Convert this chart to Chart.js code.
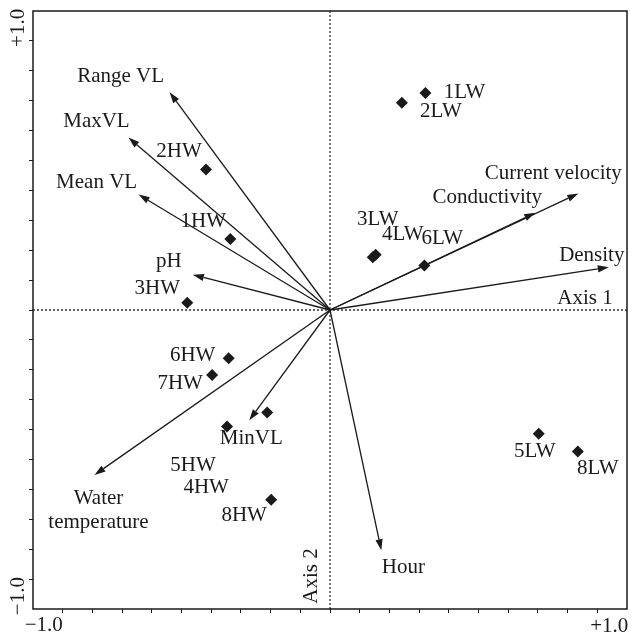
<!DOCTYPE html>
<html lang="en">
<head>
    <meta charset="utf-8">
    <script src="https://cdn.jsdelivr.net/npm/chart.js"></script>
    <style>
        html, body {
            margin: 0;
            padding: 0;
            background: #fff;
        }
        #chart {
            display: block;
        }
    </style>
</head>
<body>
    <canvas id="chart" width="633" height="633"></canvas>

    <script>
        // sites (diamonds)
        const siteNames = ['1LW', '2LW', '3LW', '4LW', '6LW', '5LW', '8LW',
                           '1HW', '2HW', '3HW', '4HW', '5HW', '6HW', '7HW', '8HW'];
        const siteX = [0.357, 0.269, 0.160, 0.171, 0.353, 0.781, 0.927,
                       -0.373, -0.464, -0.534, -0.235, -0.385, -0.379, -0.441, -0.220];
        const siteY = [0.806, 0.770, 0.196, 0.205, 0.165, -0.460, -0.526,
                       0.264, 0.522, 0.027, -0.381, -0.433, -0.179, -0.242, -0.705];

        // environmental variables (arrows from origin)
        const varNames = ['Range VL', 'MaxVL', 'Mean VL', 'pH', 'Water\ntemperature',
                          'MinVL', 'Hour', 'Current velocity', 'Conductivity', 'Density'];
        const varX = [-0.600, -0.754, -0.716, -0.513, -0.881, -0.302, 0.192, 0.929, 0.768, 1.043];
        const varY = [0.809, 0.641, 0.429, 0.131, -0.613, -0.410, -0.893, 0.433, 0.361, 0.159];

        // axis ticks
        const tickValues = [];
        for (let k = -9; k <= 9; k++) tickValues.push(k / 9);
        const tickLabels = ['\u22121.0', '+1.0'];
        const axisNames = ['Axis 1', 'Axis 2'];

        // label placement (pixels from mark: centre x, baseline y)
        const siteLabelOff = [[39, 5], [39, 14], [5, -32], [27, -15], [18, -22], [-4, 23], [20, 22],
                              [-27, -12], [-27, -13], [-30, -9], [-61, 80], [-34, 44], [-36, 3], [-32, 14], [-27, 21]];
        const varLabelOff = [[-49, -10], [-32, -11], [-42, -7], [-24, -8], [4, 29],
                             [2, 24], [22, 23], [-25, -14], [-48, -10], [-17, -6]];

        const INK = '#1a1a1a';
        const FONT = '21px "Liberation Serif", "DejaVu Serif", serif';

        const biplot = {
            id: 'biplot',
            beforeDatasetsDraw(chart) {
                const ctx = chart.ctx;
                const xs = chart.scales.x, ys = chart.scales.y;
                const a = chart.chartArea;
                const x0 = xs.getPixelForValue(0), y0 = ys.getPixelForValue(0);

                // dotted zero axes
                ctx.save();
                ctx.strokeStyle = '#333';
                ctx.lineWidth = 1.3;
                ctx.setLineDash([2, 2]);
                ctx.beginPath();
                ctx.moveTo(a.left, y0); ctx.lineTo(a.right, y0);
                ctx.moveTo(x0, a.top); ctx.lineTo(x0, a.bottom);
                ctx.stroke();
                ctx.restore();

                // arrows
                ctx.save();
                ctx.strokeStyle = INK;
                ctx.fillStyle = INK;
                ctx.lineWidth = 1.3;
                for (let i = 0; i < varNames.length; i++) {
                    const x1 = xs.getPixelForValue(varX[i]);
                    const y1 = ys.getPixelForValue(varY[i]);
                    const ang = Math.atan2(y1 - y0, x1 - x0);
                    const hl = 11, hw = 3.6;
                    const bx = x1 - hl * Math.cos(ang), by = y1 - hl * Math.sin(ang);
                    ctx.beginPath();
                    ctx.moveTo(x0, y0);
                    ctx.lineTo(bx, by);
                    ctx.stroke();
                    ctx.beginPath();
                    ctx.moveTo(x1, y1);
                    ctx.lineTo(bx + hw * Math.sin(ang), by - hw * Math.cos(ang));
                    ctx.lineTo(bx - hw * Math.sin(ang), by + hw * Math.cos(ang));
                    ctx.closePath();
                    ctx.fill();
                }
                ctx.restore();
            },
            afterDatasetsDraw(chart) {
                const ctx = chart.ctx;
                const xs = chart.scales.x, ys = chart.scales.y;
                const a = chart.chartArea;
                const x0 = xs.getPixelForValue(0), y0 = ys.getPixelForValue(0);

                ctx.save();
                ctx.fillStyle = INK;
                ctx.font = FONT;
                ctx.textAlign = 'center';
                ctx.textBaseline = 'alphabetic';

                siteNames.forEach((n, i) => {
                    const px = xs.getPixelForValue(siteX[i]);
                    const py = ys.getPixelForValue(siteY[i]);
                    ctx.fillText(n, px + siteLabelOff[i][0], py + siteLabelOff[i][1]);
                });

                varNames.forEach((n, i) => {
                    const px = xs.getPixelForValue(varX[i]);
                    const py = ys.getPixelForValue(varY[i]);
                    n.split('\n').forEach((line, j) => {
                        ctx.fillText(line, px + varLabelOff[i][0], py + varLabelOff[i][1] + j * 24);
                    });
                });

                // axis names
                ctx.fillText(axisNames[0], a.right - 42, y0 - 6);
                ctx.save();
                ctx.translate(x0 - 19, a.bottom - 33);
                ctx.rotate(-Math.PI / 2);
                ctx.textBaseline = 'middle';
                ctx.fillText(axisNames[1], 0, 0);
                ctx.restore();

                // tick labels
                ctx.fillText(tickLabels[0], xs.getPixelForValue(-1) - 19, a.bottom + 22);
                ctx.fillText(tickLabels[1], xs.getPixelForValue(1) + 12, a.bottom + 23);
                ctx.textBaseline = 'middle';
                ctx.save();
                ctx.translate(18, ys.getPixelForValue(1) - 13);
                ctx.rotate(-Math.PI / 2);
                ctx.fillText(tickLabels[1], 0, 0);
                ctx.restore();
                ctx.save();
                ctx.translate(18, ys.getPixelForValue(-1) + 17);
                ctx.rotate(-Math.PI / 2);
                ctx.fillText(tickLabels[0], 0, 0);
                ctx.restore();

                // frame
                ctx.strokeStyle = INK;
                ctx.lineWidth = 1.5;
                ctx.strokeRect(a.left, a.top, a.right - a.left, a.bottom - a.top);
                ctx.restore();
            }
        };

        const axisOpts = (pos, fit) => ({
            type: 'linear',
            position: pos,
            min: -10 / 9,
            max: 10 / 9,
            afterBuildTicks: sc => { sc.ticks = tickValues.map(v => ({ value: v })); },
            afterFit: fit,
            ticks: { display: false },
            border: { display: false },
            grid: {
                drawOnChartArea: false,
                drawTicks: true,
                tickLength: 4,
                color: INK,
                lineWidth: 1
            }
        });

        new Chart(document.getElementById('chart').getContext('2d'), {
            type: 'scatter',
            data: {
                datasets: [{
                    label: 'Sites',
                    data: siteX.map((x, i) => ({ x: x, y: siteY[i] })),
                    pointStyle: 'rectRot',
                    pointRadius: 6,
                    backgroundColor: INK,
                    borderWidth: 0
                }]
            },
            options: {
                responsive: false,
                animation: false,
                events: [],
                layout: { padding: { top: 11, right: 2, left: 0, bottom: 0 } },
                plugins: {
                    legend: { display: false },
                    tooltip: { enabled: false }
                },
                scales: {
                    x: axisOpts('bottom', sc => { sc.height = 24; }),
                    y: axisOpts('left', sc => { sc.width = 33; })
                }
            },
            plugins: [biplot]
        });
    </script>
</body>
</html>
